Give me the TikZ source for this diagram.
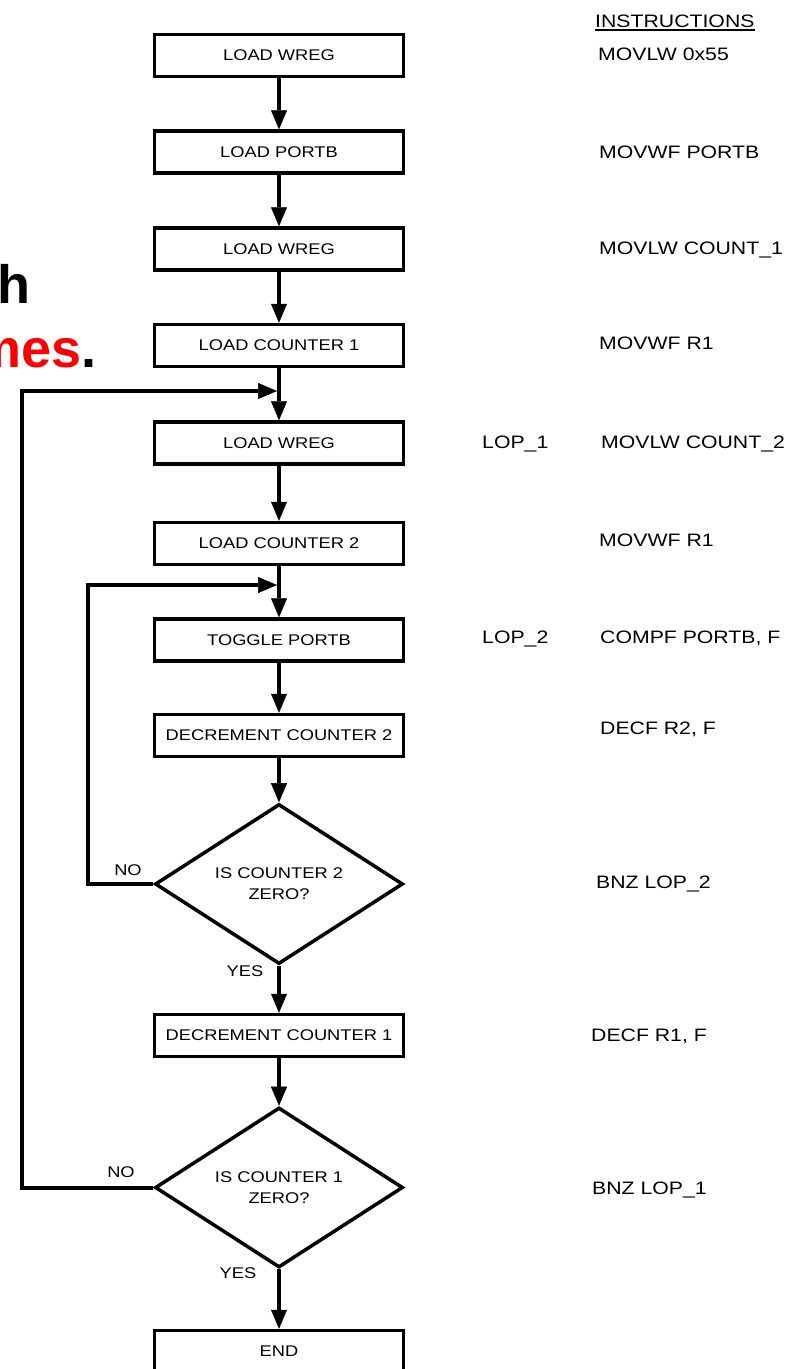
\documentclass[tikz,border=0pt]{standalone}
\usepackage{fontspec}
\setmainfont{Liberation Sans}
\newfontfamily\flowfont[FakeStretch=1.18]{Liberation Sans}
\usetikzlibrary{shapes.geometric,arrows.meta}

\begin{document}
\begin{tikzpicture}[x=1pt,y=-1pt,
  stepbox/.style={draw, line width=3.5pt, rectangle, minimum width=249pt,
    minimum height=42pt, inner sep=0pt, font=\flowfont\fontsize{15.5}{18}\selectfont},
  decision/.style={draw, line width=3.5pt, diamond, minimum width=248pt,
    minimum height=149pt, inner sep=0pt, align=center,
    font=\flowfont\fontsize{15.5}{21}\selectfont},
  flow/.style={line width=4pt, -{Triangle[length=19pt,width=16pt,line width=0.5pt]}},
  instr/.style={anchor=base west, inner sep=0pt, font=\flowfont\fontsize{18}{21}\selectfont},
  branch/.style={inner sep=0pt, font=\flowfont\fontsize{15.5}{18}\selectfont},
  headline/.style={anchor=base east, inner sep=0pt, font=\bfseries\fontsize{54}{60}\selectfont},
]
\useasboundingbox (0,0) rectangle (810,1369);
\fill[white] (0,0) rectangle (810,1369);
\clip (0,0) rectangle (810,1369);

% cut-off heading on the left
\node[headline] (hla) at (30.5,303) {h};
\node[headline, text=red] (hlb) at (97,367) {mes\textcolor{black}{.}};

% flowchart steps
\node[stepbox] (b1) at (279,55.5) {LOAD WREG};
\node[stepbox] (b2) at (279,152) {LOAD PORTB};
\node[stepbox] (b3) at (279,249) {LOAD WREG};
\node[stepbox] (b4) at (279,345.5) {LOAD COUNTER 1};
\node[stepbox] (b5) at (279,443) {LOAD WREG};
\node[stepbox] (b6) at (279,543.5) {LOAD COUNTER 2};
\node[stepbox] (b7) at (279,640) {TOGGLE PORTB};
\node[stepbox] (b8) at (279,735.5) {DECREMENT COUNTER 2};
\node[decision] (d1) at (279,884) {IS COUNTER 2\\ZERO?};
\node[stepbox] (b9) at (279,1035.5) {DECREMENT COUNTER 1};
\node[decision] (d2) at (279,1187.5) {IS COUNTER 1\\ZERO?};
\node[stepbox] (b10) at (279,1351.5) {END};

% main flow
\draw[flow] (b1) -- (b2);
\draw[flow] (b2) -- (b3);
\draw[flow] (b3) -- (b4);
\draw[flow] (b4) -- (b5);
\draw[flow] (b5) -- (b6);
\draw[flow] (b6) -- (b7);
\draw[flow] (b7) -- (b8);
\draw[flow] (b8) -- (d1);
\draw[flow] (d1) -- (b9);
\draw[flow] (b9) -- (d2);
\draw[flow] (d2) -- (b10);

% loop back-edges
\coordinate (outerc) at (22,391);
\coordinate (outerj) at (277,391);
\coordinate (innerc) at (88,585);
\coordinate (innerj) at (277,585);
\draw[flow] (d1.west) -| (innerc) -- (innerj);
\draw[flow] (d2.west) -| (outerc) -- (outerj);

% branch labels
\node[branch] (no1) at (128,870) {NO};
\node[branch] (yes1) at (245,971) {YES};
\node[branch] (no2) at (121,1172) {NO};
\node[branch] (yes2) at (238,1273) {YES};

% instruction column
\node[instr] (ihead) at (595,27) {INSTRUCTIONS};
\draw[line width=2pt] ([yshift=-2.5pt]ihead.base west) -- ([yshift=-2.5pt]ihead.base east);
\node[instr] (i1) at (598,60) {MOVLW 0x55};
\node[instr] (i2) at (599,158.5) {MOVWF PORTB};
\node[instr] (i3) at (599,254.5) {MOVLW COUNT\_1};
\node[instr] (i4) at (599,349.5) {MOVWF R1};
\node[instr] (l1) at (482,448.5) {LOP\_1};
\node[instr] (i5) at (601,448.5) {MOVLW COUNT\_2};
\node[instr] (i6) at (599,546) {MOVWF R1};
\node[instr] (l2) at (482,643) {LOP\_2};
\node[instr] (i7) at (600,643) {COMPF PORTB, F};
\node[instr] (i8) at (600,734) {DECF R2, F};
\node[instr] (i9) at (596,888.5) {BNZ LOP\_2};
\node[instr] (i10) at (591,1041.5) {DECF R1, F};
\node[instr] (i11) at (592,1194.5) {BNZ LOP\_1};
\end{tikzpicture}
\end{document}
